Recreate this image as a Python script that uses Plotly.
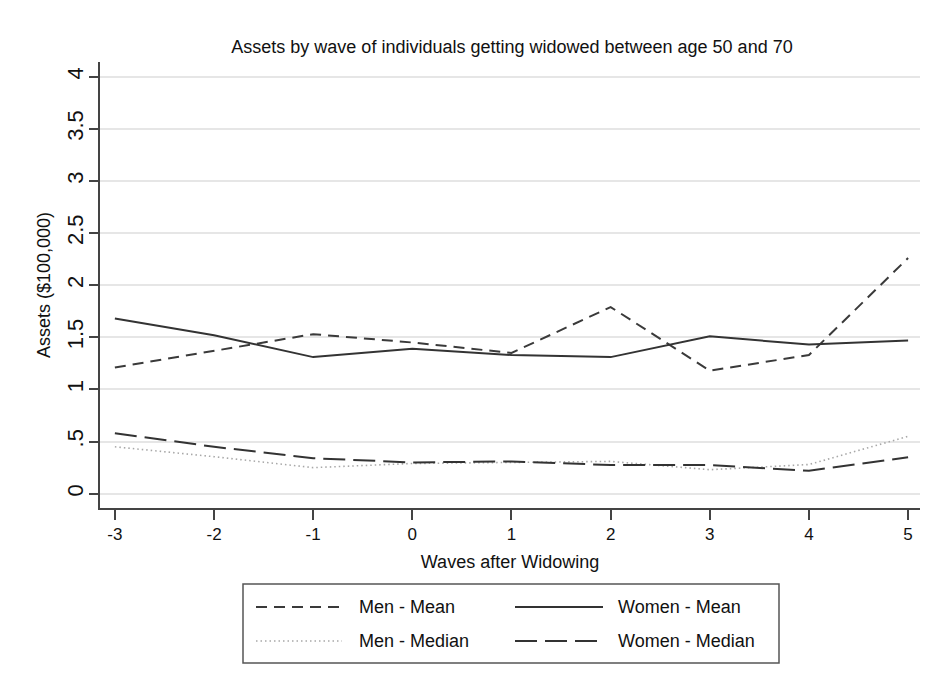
import plotly.graph_objects as go

# Waves relative to the widowing event
waves = [-3, -2, -1, 0, 1, 2, 3, 4, 5]

# Assets in $100,000
men_mean = [1.21, 1.37, 1.53, 1.45, 1.35, 1.79, 1.18, 1.33, 2.26]
women_mean = [1.68, 1.52, 1.31, 1.39, 1.33, 1.31, 1.51, 1.43, 1.47]
men_median = [0.45, 0.355, 0.25, 0.29, 0.30, 0.31, 0.23, 0.28, 0.55]
women_median = [0.58, 0.45, 0.34, 0.30, 0.31, 0.275, 0.275, 0.22, 0.35]

y_tickvals = [0, 0.5, 1, 1.5, 2, 2.5, 3, 3.5, 4]
y_ticktext = ["0", ".5", "1", "1.5", "2", "2.5", "3", "3.5", "4"]
x_tickvals = waves
x_ticktext = ["-3", "-2", "-1", "0", "1", "2", "3", "4", "5"]

series_names = ["Men - Mean", "Women - Mean", "Men - Median", "Women - Median"]

W, H = 936, 686
L, R, T, B = 100, 16, 62, 178
FONT = "Liberation Sans, Arial, Helvetica, sans-serif"
TXT = "#111111"

styles = {
    "Men - Mean": dict(color="#3a3a3a", width=2, dash="11px,7px"),
    "Women - Mean": dict(color="#333333", width=2, dash="solid"),
    "Men - Median": dict(color="#a8a8a8", width=1.6, dash="1.5px,3px"),
    "Women - Median": dict(color="#333333", width=2, dash="22px,8px"),
}
values = {
    "Men - Mean": men_mean,
    "Women - Mean": women_mean,
    "Men - Median": men_median,
    "Women - Median": women_median,
}

fig = go.Figure()
for name in series_names:
    fig.add_trace(go.Scatter(
        x=waves, y=values[name], mode="lines", name=name,
        line=styles[name], showlegend=False,
    ))


def px_x(px):
    return (px - L) / (W - L - R)


def px_y(py):
    return (H - B - py) / (H - T - B)


# Boxed legend below the plot, two columns
shapes = [dict(
    type="rect", xref="paper", yref="paper",
    x0=px_x(243), x1=px_x(779), y0=px_y(663), y1=px_y(584),
    line=dict(color="#555555", width=1.5), fillcolor="white",
)]
annotations = []
legend_pos = {
    "Men - Mean": (256, 342, 357, 607),
    "Women - Mean": (515, 603, 616, 607),
    "Men - Median": (256, 342, 357, 641),
    "Women - Median": (515, 603, 616, 641),
}
for name in series_names:
    sx0, sx1, tx, yy = legend_pos[name]
    st = styles[name]
    shapes.append(dict(
        type="line", xref="paper", yref="paper",
        x0=px_x(sx0), x1=px_x(sx1), y0=px_y(yy), y1=px_y(yy),
        line=dict(color=st["color"], width=st["width"], dash=st["dash"]),
    ))
    annotations.append(dict(
        xref="paper", yref="paper", x=px_x(tx), y=px_y(yy),
        text=name, showarrow=False, xanchor="left", yanchor="middle",
        font=dict(family=FONT, size=18, color=TXT),
    ))

fig.update_layout(
    width=W, height=H,
    margin=dict(l=L, r=R, t=T, b=B, pad=0),
    paper_bgcolor="white", plot_bgcolor="white",
    title=dict(
        text="Assets by wave of individuals getting widowed between age 50 and 70",
        x=512 / W, xanchor="center",
        y=1 - 47 / H, yanchor="middle", yref="container",
        font=dict(family=FONT, size=18, color=TXT),
    ),
    shapes=shapes,
    annotations=annotations,
    showlegend=False,
)

fig.update_xaxes(
    range=[-3.15, 5.12],
    tickvals=x_tickvals, ticktext=x_ticktext,
    showgrid=False, zeroline=False,
    showline=True, linecolor="#444444", linewidth=1.5,
    ticks="outside", ticklen=10, tickwidth=1.5, tickcolor="#444444",
    tickfont=dict(family=FONT, size=17, color=TXT),
    title=dict(text="Waves after Widowing", standoff=12,
               font=dict(family=FONT, size=18, color=TXT)),
)
fig.update_yaxes(
    range=[-0.137, 4.14],
    tickvals=y_tickvals, ticktext=y_ticktext, tickangle=-90,
    showgrid=True, gridcolor="#e6e6e6", gridwidth=2, zeroline=False,
    showline=True, linecolor="#444444", linewidth=1.5,
    ticks="outside", ticklen=9, tickwidth=1.5, tickcolor="#444444",
    ticklabelstandoff=-3,
    tickfont=dict(family=FONT, size=22, color=TXT),
    title=dict(text="Assets ($100,000)", standoff=8,
               font=dict(family=FONT, size=18, color=TXT)),
)

fig.write_html("out.html")
